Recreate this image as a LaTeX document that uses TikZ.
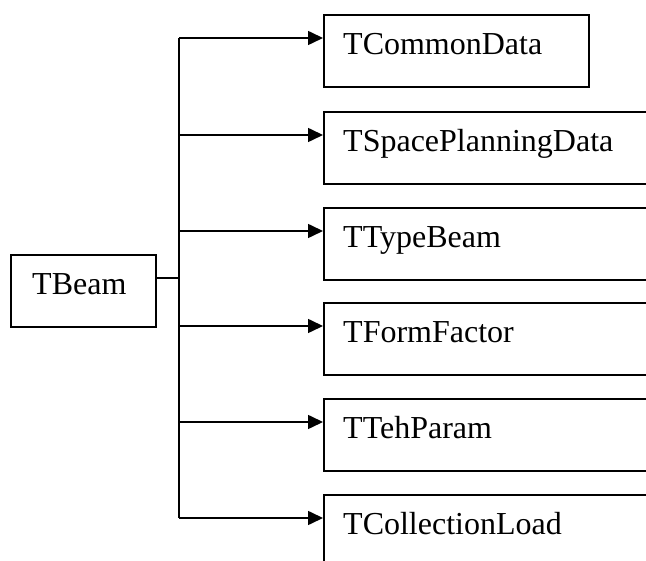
\documentclass[tikz,border=0pt]{standalone}
\usepackage{fontspec}
\setmainfont{Liberation Serif}
\usetikzlibrary{arrows.meta,calc}
\begin{document}
\begin{tikzpicture}[x=1pt,y=1pt,
  box/.style={draw=black,line width=1.6pt,rectangle,inner sep=0pt,anchor=north west,minimum height=72pt},
  lbl/.style={anchor=base west,inner sep=0pt,font=\fontsize{32}{38}\selectfont},
  conn/.style={draw=black,line width=1.6pt},
  arr/.style={conn,-{Triangle[length=15pt,width=14pt]}}]
\useasboundingbox (0,0) rectangle (646,-561);
\clip (0,0) rectangle (646,-561);
% main box
\node[box,minimum width=145pt] (tb) at (10,-254) {};
\node[lbl] (tbt) at ($(tb.north west)+(22,-41)$) {TBeam};
% target boxes
\node[box,minimum width=265pt] (c1) at (323,-14) {};
\node[box,minimum width=360pt] (c2) at (323,-111) {};
\node[box,minimum width=360pt] (c3) at (323,-207) {};
\node[box,minimum width=360pt] (c4) at (323,-302) {};
\node[box,minimum width=360pt] (c5) at (323,-398) {};
\node[box,minimum width=360pt] (c6) at (323,-494) {};
\foreach \n/\t in {c1/TCommonData,c2/TSpacePlanningData,c3/TTypeBeam,c4/TFormFactor,c5/TTehParam,c6/TCollectionLoad}{
  \node[lbl] (\n t) at ($(\n.north west)+(20,-41)$) {\t};
  \coordinate (\n a) at ($(\n.north west)+(0,-24)$);
}
\coordinate (tk) at (179,0);
\coordinate (tba) at ($(tb.north east)+(0,-24)$);
% trunk
\draw[conn] (tba) -- (tba -| tk);
\draw[conn] (c1a -| tk) -- (c6a -| tk);
\foreach \n in {c1,c2,c3,c4,c5,c6}{
  \draw[arr] (\n a -| tk) -- (\n a);
}
\end{tikzpicture}
\end{document}
